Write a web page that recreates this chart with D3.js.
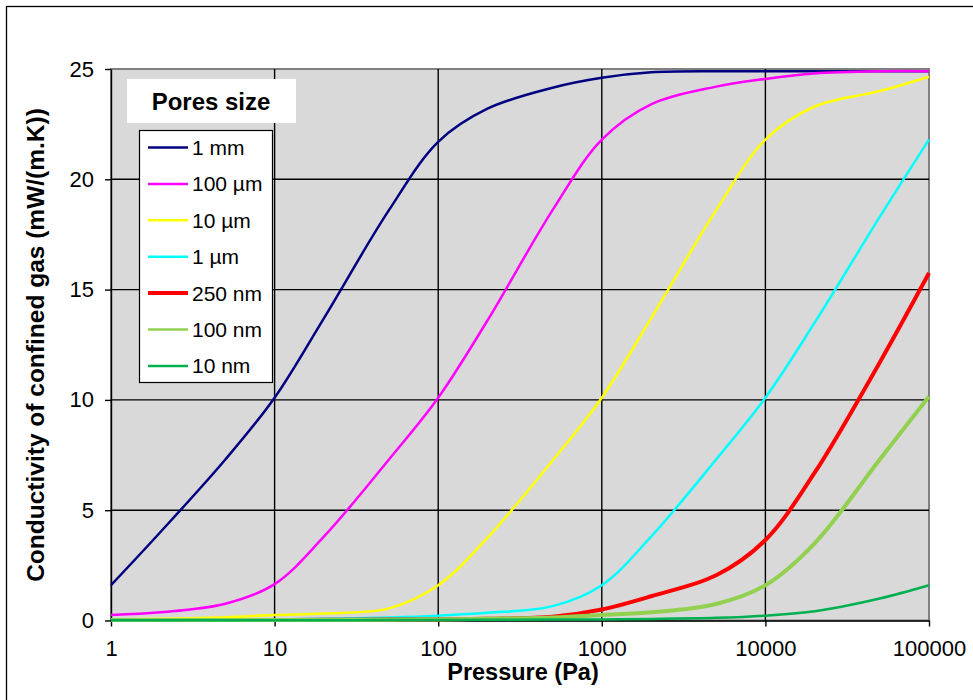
<!DOCTYPE html>
<html lang="en">
<head>
  <meta charset="UTF-8">
  <title>Conductivity of confined gas</title>
  <script src="https://d3js.org/d3.v7.min.js"></script>
  <style>
    body { margin: 0; background: #fff; }
    text { font-family: "Liberation Sans", Arial, sans-serif; fill: #000; }
  </style>
</head>
<body>
  <div class="chart"></div>

  <script>
    // pressure samples (Pa)
    const pressures = [1, 2, 5, 10, 20, 50, 100, 200, 500, 1000, 2000, 5000, 10000, 20000, 50000, 100000];

    const mm1    = [1.6, 4.0, 7.3, 10.1, 13.7, 18.6, 21.7, 23.2, 24.15, 24.6, 24.85, 24.9, 24.9, 24.9, 24.9, 24.9];
    const um100  = [0.25, 0.37, 0.76, 1.65, 3.8, 7.3, 10.1, 13.6, 18.6, 21.8, 23.4, 24.2, 24.55, 24.8, 24.9, 24.9];
    const um10   = [0.05, 0.08, 0.15, 0.25, 0.32, 0.55, 1.6, 3.75, 7.25, 10.1, 13.7, 18.6, 21.8, 23.3, 24.0, 24.65];
    const um1    = [0.02, 0.02, 0.03, 0.05, 0.08, 0.14, 0.22, 0.35, 0.65, 1.6, 3.8, 7.3, 10.1, 13.5, 18.3, 21.8];
    const nm250  = [0.02, 0.02, 0.02, 0.02, 0.03, 0.04, 0.05, 0.08, 0.17, 0.5, 1.1, 2.05, 3.65, 6.7, 11.7, 15.75];
    const nm100  = [0.02, 0.02, 0.02, 0.02, 0.02, 0.03, 0.05, 0.08, 0.14, 0.25, 0.37, 0.75, 1.6, 3.5, 7.3, 10.15];
    const nm10   = [0.01, 0.01, 0.01, 0.01, 0.01, 0.02, 0.02, 0.03, 0.04, 0.05, 0.07, 0.12, 0.22, 0.42, 1.0, 1.6];

    const seriesNames = ["1 mm", "100 µm", "10 µm", "1 µm", "250 nm", "100 nm", "10 nm"];
    const seriesValues = [mm1, um100, um10, um1, nm250, nm100, nm10];
    const seriesColors = ["#000080", "#ff00ff", "#ffff00", "#00ffff", "#ff0000", "#92d050", "#00b050"];
    const seriesWidths = [2.5, 2.5, 2.5, 2.5, 4, 4, 2.5];

    const xTicks = [1, 10, 100, 1000, 10000, 100000];
    const yTicks = [0, 5, 10, 15, 20, 25];

    const width = 973, height = 700;
    const plotLeft = 111, plotRight = 929, plotTop = 69, plotBottom = 620.5;

    const svg = d3.select(".chart").append("svg")
      .attr("width", width)
      .attr("height", height);

    // outer frame of the chart
    svg.append("rect")
      .attr("x", 6.5).attr("y", 6.5)
      .attr("width", 1000).attr("height", 1000)
      .attr("fill", "#fff")
      .attr("stroke", "#000")
      .attr("stroke-width", 1.3);

    const x = d3.scaleLog().domain([1, 100000]).range([plotLeft, plotRight]);
    const y = d3.scaleLinear().domain([0, 25]).range([plotBottom, plotTop]);

    // plot area
    svg.append("rect")
      .attr("x", plotLeft).attr("y", plotTop)
      .attr("width", plotRight - plotLeft).attr("height", plotBottom - plotTop)
      .attr("fill", "#d9d9d9")
      .attr("stroke", "#808080")
      .attr("stroke-width", 2);

    // grid
    svg.append("g").selectAll("line")
      .data(xTicks.slice(1, -1))
      .join("line")
      .attr("x1", d => x(d)).attr("x2", d => x(d))
      .attr("y1", plotTop).attr("y2", plotBottom)
      .attr("stroke", "#000").attr("stroke-width", 1.4);

    svg.append("g").selectAll("line")
      .data(yTicks.slice(1, -1))
      .join("line")
      .attr("x1", plotLeft).attr("x2", plotRight)
      .attr("y1", d => y(d)).attr("y2", d => y(d))
      .attr("stroke", "#000").attr("stroke-width", 1.4);

    // axes
    const xAxis = svg.append("g")
      .attr("transform", `translate(0,${plotBottom})`)
      .call(d3.axisBottom(x).tickValues(xTicks).tickFormat(d3.format("d")).tickSizeInner(6).tickSizeOuter(0).tickPadding(14));
    const yAxis = svg.append("g")
      .attr("transform", `translate(${plotLeft},0)`)
      .call(d3.axisLeft(y).tickValues(yTicks).tickSizeInner(6).tickSizeOuter(0).tickPadding(11));

    [xAxis, yAxis].forEach(g => {
      g.select(".domain").attr("stroke", "#000").attr("stroke-width", 1.4);
      g.selectAll(".tick line").attr("stroke", "#000").attr("stroke-width", 1.4);
      g.selectAll(".tick text")
        .attr("font-family", "Liberation Sans, Arial, sans-serif")
        .attr("font-size", 22)
        .attr("fill", "#000");
    });

    // series
    const line = d3.line()
      .x((d, i) => x(pressures[i]))
      .y(d => y(d))
      .curve(d3.curveCatmullRom.alpha(0.5));

    seriesValues.forEach((vals, k) => {
      svg.append("path")
        .datum(vals)
        .attr("d", line)
        .attr("fill", "none")
        .attr("stroke", seriesColors[k])
        .attr("stroke-width", seriesWidths[k])
        .attr("stroke-linejoin", "round");
    });

    // axis titles
    svg.append("text")
      .attr("x", 523).attr("y", 680)
      .attr("text-anchor", "middle")
      .attr("font-size", 23.5)
      .attr("font-weight", "bold")
      .text("Pressure (Pa)");

    svg.append("text")
      .attr("transform", "translate(44,345) rotate(-90)")
      .attr("text-anchor", "middle")
      .attr("font-size", 24.5)
      .attr("font-weight", "bold")
      .text("Conductivity of confined gas (mW/(m.K))");

    // legend title
    svg.append("rect")
      .attr("x", 127).attr("y", 79)
      .attr("width", 169).attr("height", 44)
      .attr("fill", "#fff");
    svg.append("text")
      .attr("x", 211).attr("y", 110)
      .attr("text-anchor", "middle")
      .attr("font-family", "Lato, 'Open Sans', sans-serif")
      .attr("font-size", 24)
      .attr("font-weight", "bold")
      .text("Pores size");

    // legend box
    const legend = svg.append("g");
    legend.append("rect")
      .attr("x", 139.5).attr("y", 130.5)
      .attr("width", 133).attr("height", 252)
      .attr("fill", "#fff")
      .attr("stroke", "#000")
      .attr("stroke-width", 1.2);

    seriesNames.forEach((name, k) => {
      const cy = 147.5 + k * 36.4;
      legend.append("line")
        .attr("x1", 148).attr("x2", 188)
        .attr("y1", cy).attr("y2", cy)
        .attr("stroke", seriesColors[k])
        .attr("stroke-width", k === 4 ? 4 : 2.5);
      legend.append("text")
        .attr("x", 192).attr("y", cy + 7.5)
        .attr("font-size", 21)
        .text(name);
    });
  </script>
</body>
</html>
